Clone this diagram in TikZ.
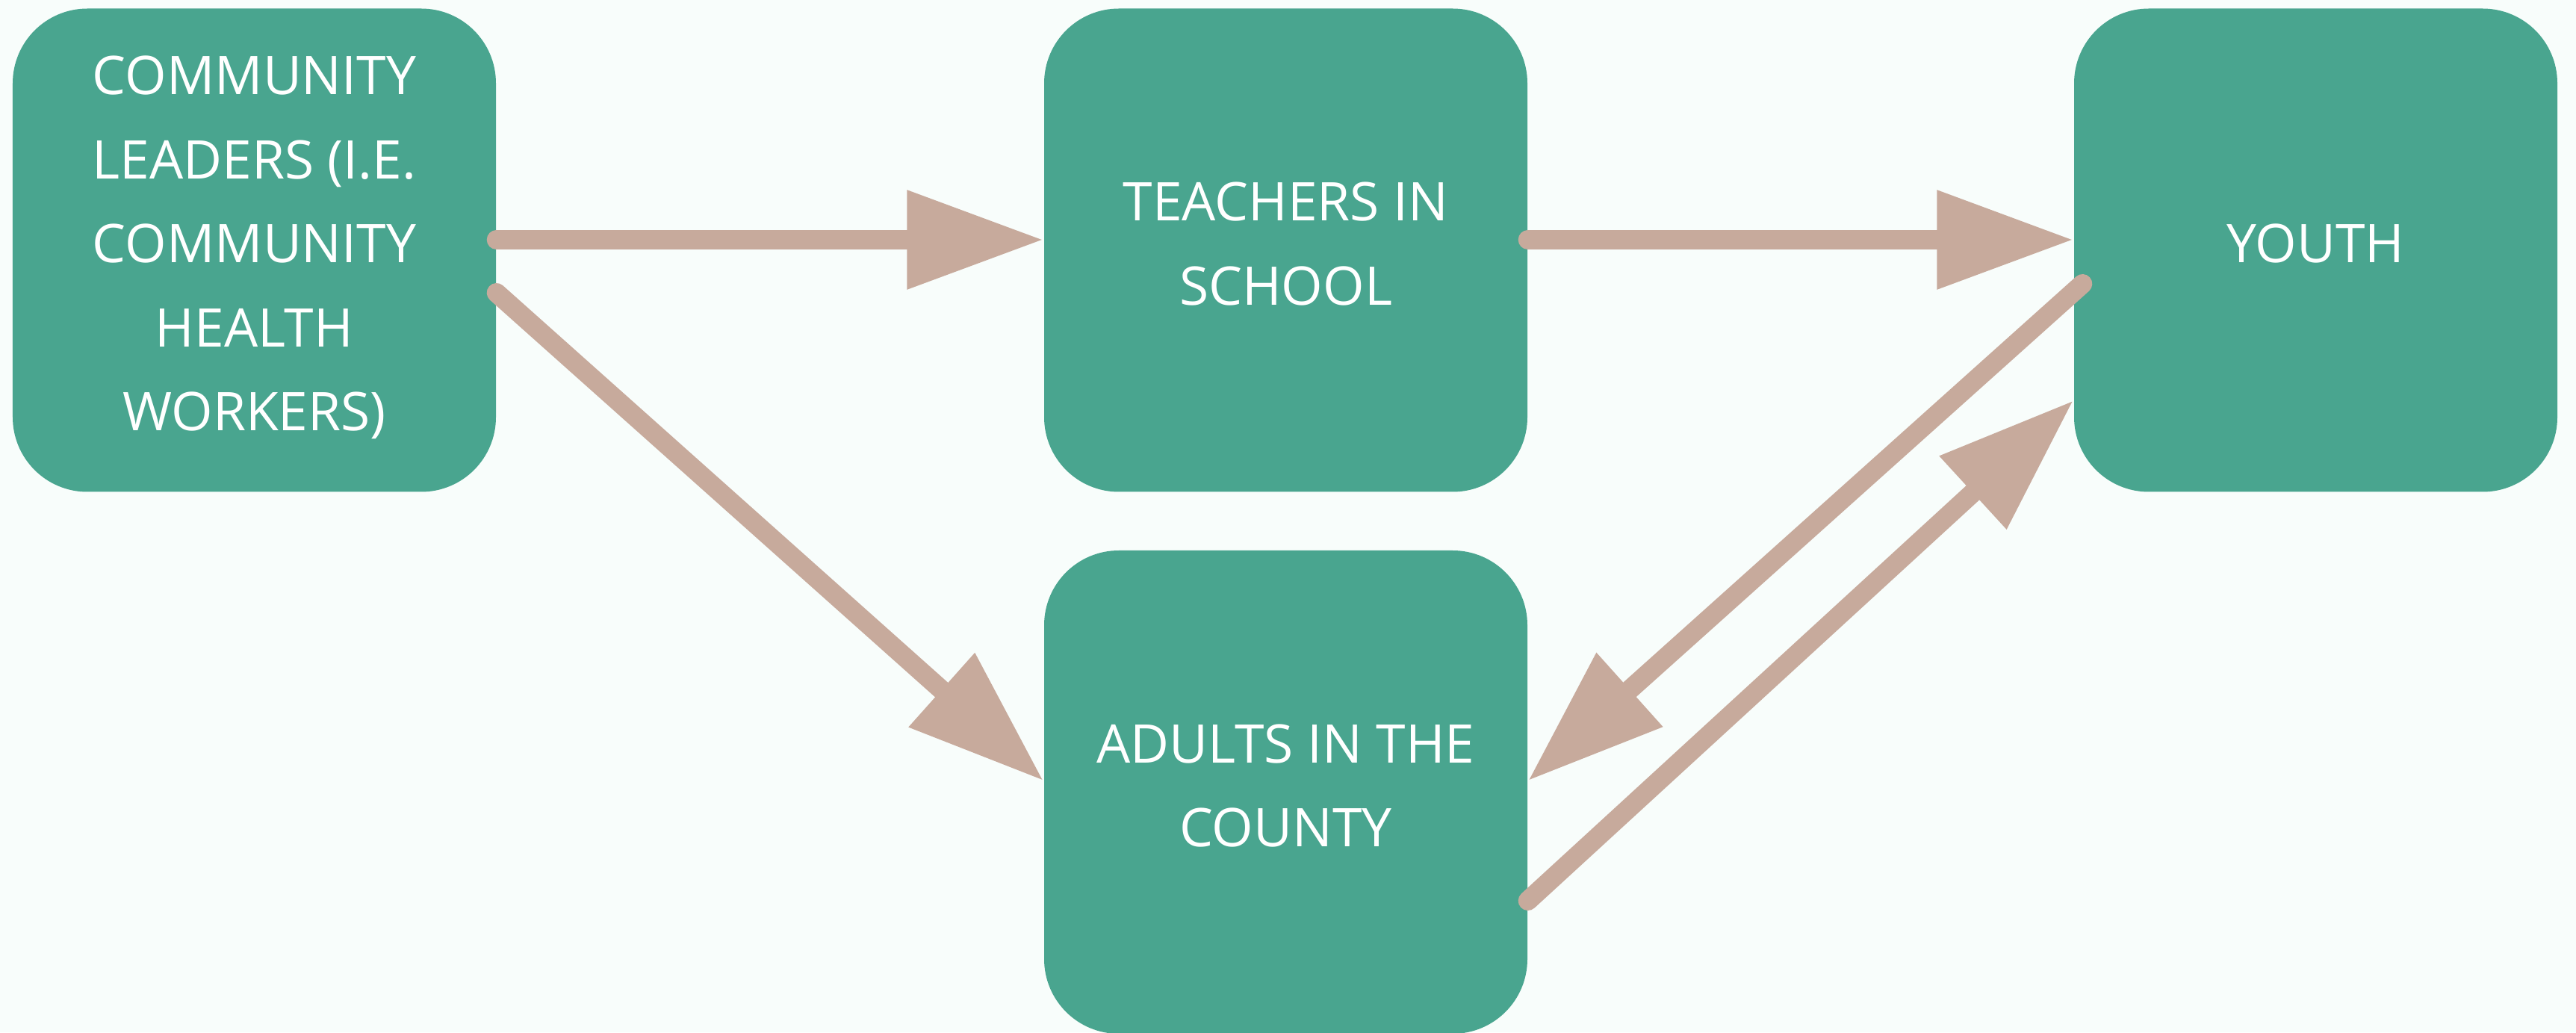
\documentclass[tikz,border=0pt]{standalone}
\usepackage{fontspec}
\setmainfont{Open Sans}
\usepackage{xcolor}
\usepackage{tikz}
\usetikzlibrary{arrows.meta}

\definecolor{boxteal}{HTML}{49A58F}
\definecolor{linktan}{HTML}{C7AA9C}
\definecolor{bgmint}{HTML}{F8FDFB}

\tikzset{
	groupbox/.style={rectangle, rounded corners=1cm, fill=boxteal, text=white,
		minimum width=6.47cm, minimum height=6.47cm, inner sep=0pt, align=center,
		text depth=0.18cm, font=\fontsize{20.3}{32}\selectfont},
	flow/.style={draw=linktan, line width=0.26cm, line cap=round,
		-{Triangle[length=1.83cm, width=1.26cm]}}
}

\begin{document}
\begin{tikzpicture}
    		% Background and page size:
    		\fill[bgmint] (0, 0) rectangle (34.49, 13.82);
    		\useasboundingbox (0, 0) rectangle (34.49, 13.82);
    		% Groups:
    		\node[groupbox] (leaders) at (3.405, 10.47){COMMUNITY\\LEADERS (I.E.\\COMMUNITY\\HEALTH\\WORKERS)};
    		\node[groupbox] (teachers) at (17.215, 10.47){TEACHERS IN\\SCHOOL};
    		\node[groupbox] (youth) at (31.005, 10.47){YOUTH};
    		\node[groupbox] (adults) at (17.215, 3.215){ADULTS IN THE\\COUNTY};
    		% Links between groups:
    		\draw[flow] ([yshift=0.14cm]leaders.east) -- ([yshift=0.14cm]teachers.west);
    		\draw[flow] ([yshift=0.14cm]teachers.east) -- ([yshift=0.14cm]youth.west);
    		\draw[flow] ([yshift=-0.57cm]leaders.east) -- ([yshift=0.15cm]adults.west);
    		\draw[flow] ([xshift=0.12cm, yshift=-0.45cm]youth.west) -- ([yshift=0.15cm]adults.east);
    		\draw[flow] ([yshift=-1.455cm]adults.east) -- ([yshift=-2.01cm]youth.west);
    	\end{tikzpicture}
\end{document}
